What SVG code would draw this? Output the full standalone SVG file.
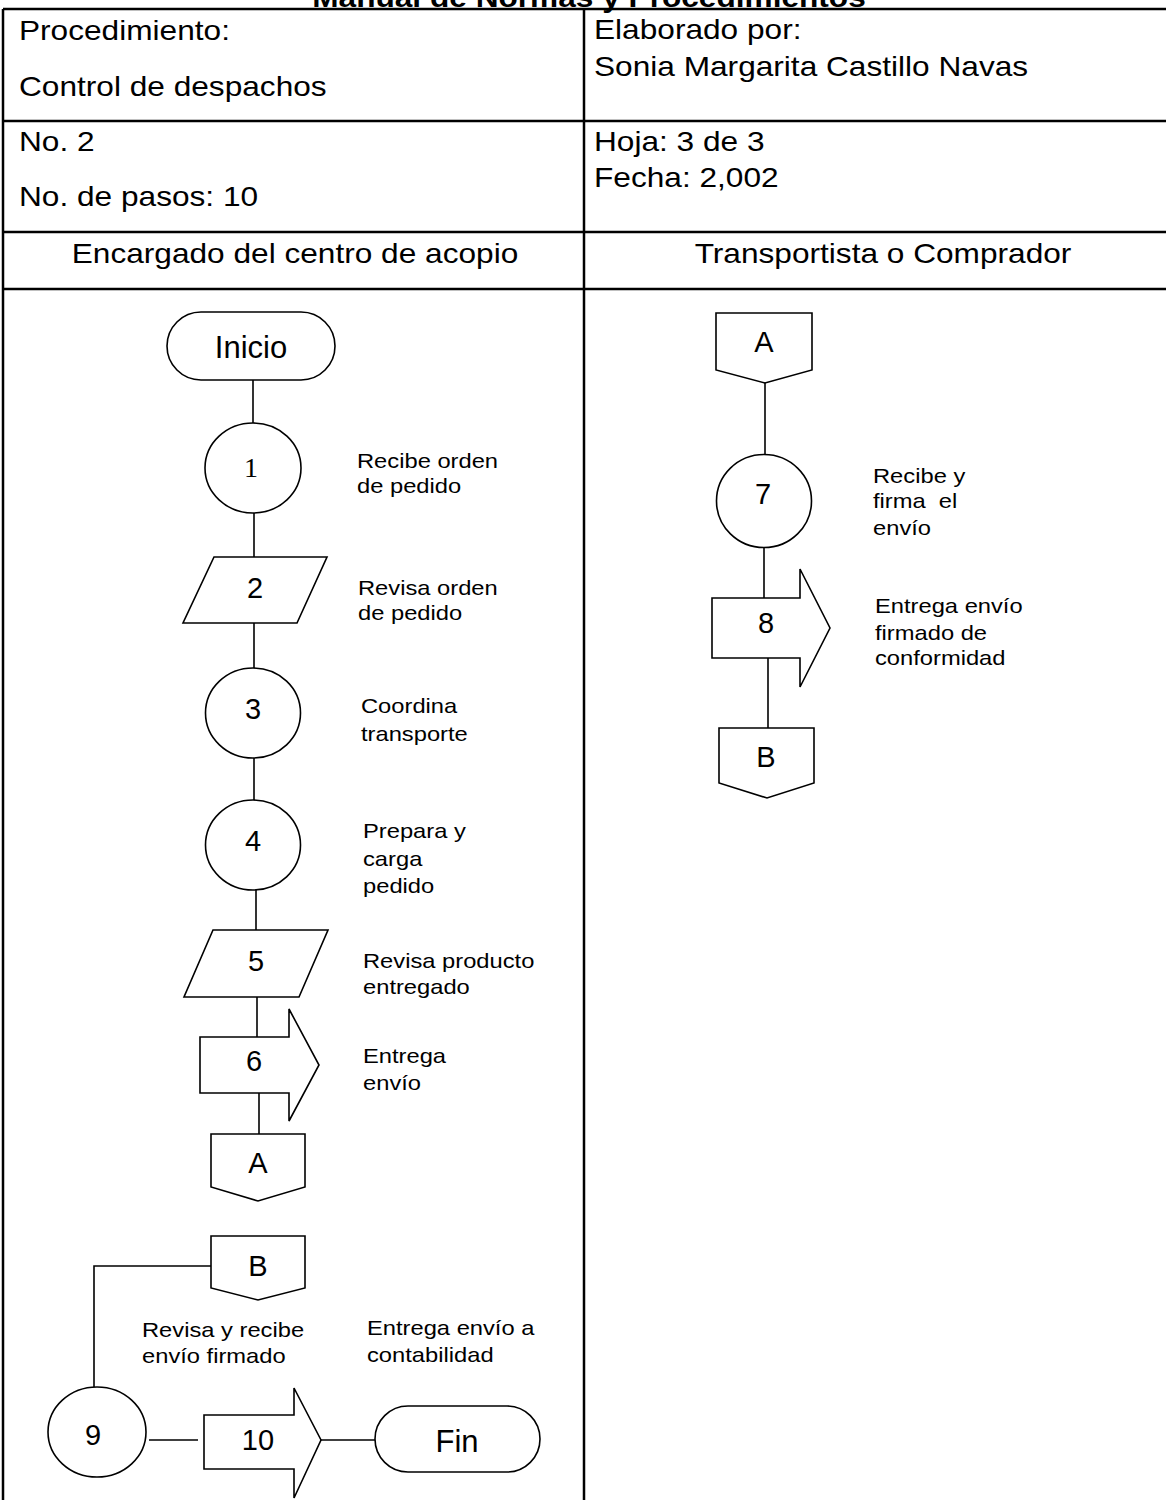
<svg xmlns="http://www.w3.org/2000/svg" width="1166" height="1500" viewBox="0 0 1166 1500">
<style>
.tb{stroke:#000;stroke-width:2.5;fill:none}
.ln{stroke:#000;stroke-width:1.6;fill:none}
.sh{stroke:#000;stroke-width:1.6;fill:#fff}
text{font-family:"Liberation Sans",Arial,sans-serif;fill:#000}
.ti{font-size:28px;font-weight:bold;text-anchor:middle}
.h{font-size:28px}
.hc{font-size:28px;text-anchor:middle}
.lb{font-size:21px;white-space:pre}
.n{font-size:29px;text-anchor:middle}
.t{font-size:31px;text-anchor:middle}
.s{font-family:"Liberation Serif","Times New Roman",serif;font-size:28px;text-anchor:middle}
</style>
<rect width="1166" height="1500" fill="#fff"/>
<g id="header">
<text class="ti" transform="translate(589 7) scale(1.13 1)">Manual de Normas y Procedimientos</text>
<path class="tb" d="M3 9H1166M3 121H1166M3 232H1166M3 289H1166M3 9V1500M584 9V1500"/>
<text class="h" transform="translate(19 40) scale(1.13 1)">Procedimiento:</text>
<text class="h" transform="translate(19 96) scale(1.13 1)">Control de despachos</text>
<text class="h" transform="translate(594 39) scale(1.13 1)">Elaborado por:</text>
<text class="h" transform="translate(594 76) scale(1.13 1)">Sonia Margarita Castillo Navas</text>
<text class="h" transform="translate(19 151) scale(1.13 1)">No. 2</text>
<text class="h" transform="translate(19 206) scale(1.13 1)">No. de pasos: 10</text>
<text class="h" transform="translate(594 151) scale(1.13 1)">Hoja: 3 de 3</text>
<text class="h" transform="translate(594 187) scale(1.13 1)">Fecha: 2,002</text>
<text class="hc" transform="translate(295 263) scale(1.13 1)">Encargado del centro de acopio</text>
<text class="hc" transform="translate(883 263) scale(1.13 1)">Transportista o Comprador</text>
</g>
<g id="connectors">
<path class="ln" d="M253 380V424"/>
<path class="ln" d="M254 513V557"/>
<path class="ln" d="M254 623V668"/>
<path class="ln" d="M254 758V800"/>
<path class="ln" d="M256 889V930"/>
<path class="ln" d="M257 997V1037"/>
<path class="ln" d="M259 1093V1134"/>
<path class="ln" d="M765 383V454"/>
<path class="ln" d="M764 547V598"/>
<path class="ln" d="M768 658V728"/>
<path class="ln" d="M215 1266H94V1387"/>
<path class="ln" d="M149 1440H198"/>
<path class="ln" d="M321 1440H375"/>
</g>
<g id="inicio"><rect class="sh" x="167" y="312" width="168" height="68" rx="34"/><text class="t" x="251" y="358">Inicio</text></g>
<g id="step1"><ellipse class="sh" cx="253" cy="468" rx="48" ry="45"/><text class="s" x="251" y="477">1</text>
<text class="lb" transform="translate(357 468) scale(1.13 1)">Recibe orden</text><text class="lb" transform="translate(357 493) scale(1.13 1)">de pedido</text></g>
<g id="step2"><polygon class="sh" points="214,557 327,557 297,623 183,623"/><text class="n" x="255" y="598">2</text>
<text class="lb" transform="translate(358 595) scale(1.13 1)">Revisa orden</text><text class="lb" transform="translate(358 620) scale(1.13 1)">de pedido</text></g>
<g id="step3"><ellipse class="sh" cx="253" cy="713" rx="47.5" ry="45"/><text class="n" x="253" y="719">3</text>
<text class="lb" transform="translate(361 713) scale(1.13 1)">Coordina</text><text class="lb" transform="translate(361 741) scale(1.13 1)">transporte</text></g>
<g id="step4"><ellipse class="sh" cx="253" cy="845" rx="47.5" ry="45"/><text class="n" x="253" y="851">4</text>
<text class="lb" transform="translate(363 838) scale(1.13 1)">Prepara y</text><text class="lb" transform="translate(363 866) scale(1.13 1)">carga</text><text class="lb" transform="translate(363 893) scale(1.13 1)">pedido</text></g>
<g id="step5"><polygon class="sh" points="213,930 328,930 299,997 184,997"/><text class="n" x="256" y="971">5</text>
<text class="lb" transform="translate(363 968) scale(1.13 1)">Revisa producto</text><text class="lb" transform="translate(363 994) scale(1.13 1)">entregado</text></g>
<g id="step6"><polygon class="sh" points="200,1037 289,1037 289,1009 319,1065 289,1121 289,1093 200,1093"/><text class="n" x="254" y="1071">6</text>
<text class="lb" transform="translate(363 1063) scale(1.13 1)">Entrega</text><text class="lb" transform="translate(363 1090) scale(1.13 1)">envío</text></g>
<g id="connA-out"><polygon class="sh" points="211,1134 305,1134 305,1187 258,1201 211,1187"/><text class="n" x="258" y="1173">A</text></g>
<g id="connB-in"><polygon class="sh" points="211,1236 305,1236 305,1288 258,1300 211,1288"/><text class="n" x="258" y="1276">B</text></g>
<g id="step9"><ellipse class="sh" cx="97" cy="1432" rx="49" ry="45"/><text class="n" x="93" y="1445">9</text>
<text class="lb" transform="translate(142 1337) scale(1.13 1)">Revisa y recibe</text><text class="lb" transform="translate(142 1363) scale(1.13 1)">envío firmado</text></g>
<g id="step10"><polygon class="sh" points="204,1415 294,1415 294,1388 321,1440 294,1498 294,1469 204,1469"/><text class="n" x="258" y="1450">10</text>
<text class="lb" transform="translate(367 1335) scale(1.13 1)">Entrega envío a</text><text class="lb" transform="translate(367 1362) scale(1.13 1)">contabilidad</text></g>
<g id="fin"><rect class="sh" x="375" y="1406" width="165" height="66" rx="33"/><text class="t" x="457" y="1452">Fin</text></g>
<g id="connA-in"><polygon class="sh" points="716,313 812,313 812,370 765,383 716,370"/><text class="n" x="764" y="352">A</text></g>
<g id="step7"><ellipse class="sh" cx="764" cy="501" rx="47.5" ry="46.5"/><text class="n" x="763" y="504">7</text>
<text class="lb" transform="translate(873 483) scale(1.13 1)">Recibe y</text><text class="lb" transform="translate(873 508) scale(1.13 1)">firma  el</text><text class="lb" transform="translate(873 535) scale(1.13 1)">envío</text></g>
<g id="step8"><polygon class="sh" points="712,598 800,598 800,569 830,628 800,687 800,658 712,658"/><text class="n" x="766" y="633">8</text>
<text class="lb" transform="translate(875 613) scale(1.13 1)">Entrega envío</text><text class="lb" transform="translate(875 640) scale(1.13 1)">firmado de</text><text class="lb" transform="translate(875 665) scale(1.13 1)">conformidad</text></g>
<g id="connB-out"><polygon class="sh" points="719,728 814,728 814,783 767,798 719,783"/><text class="n" x="766" y="767">B</text></g>
</svg>
